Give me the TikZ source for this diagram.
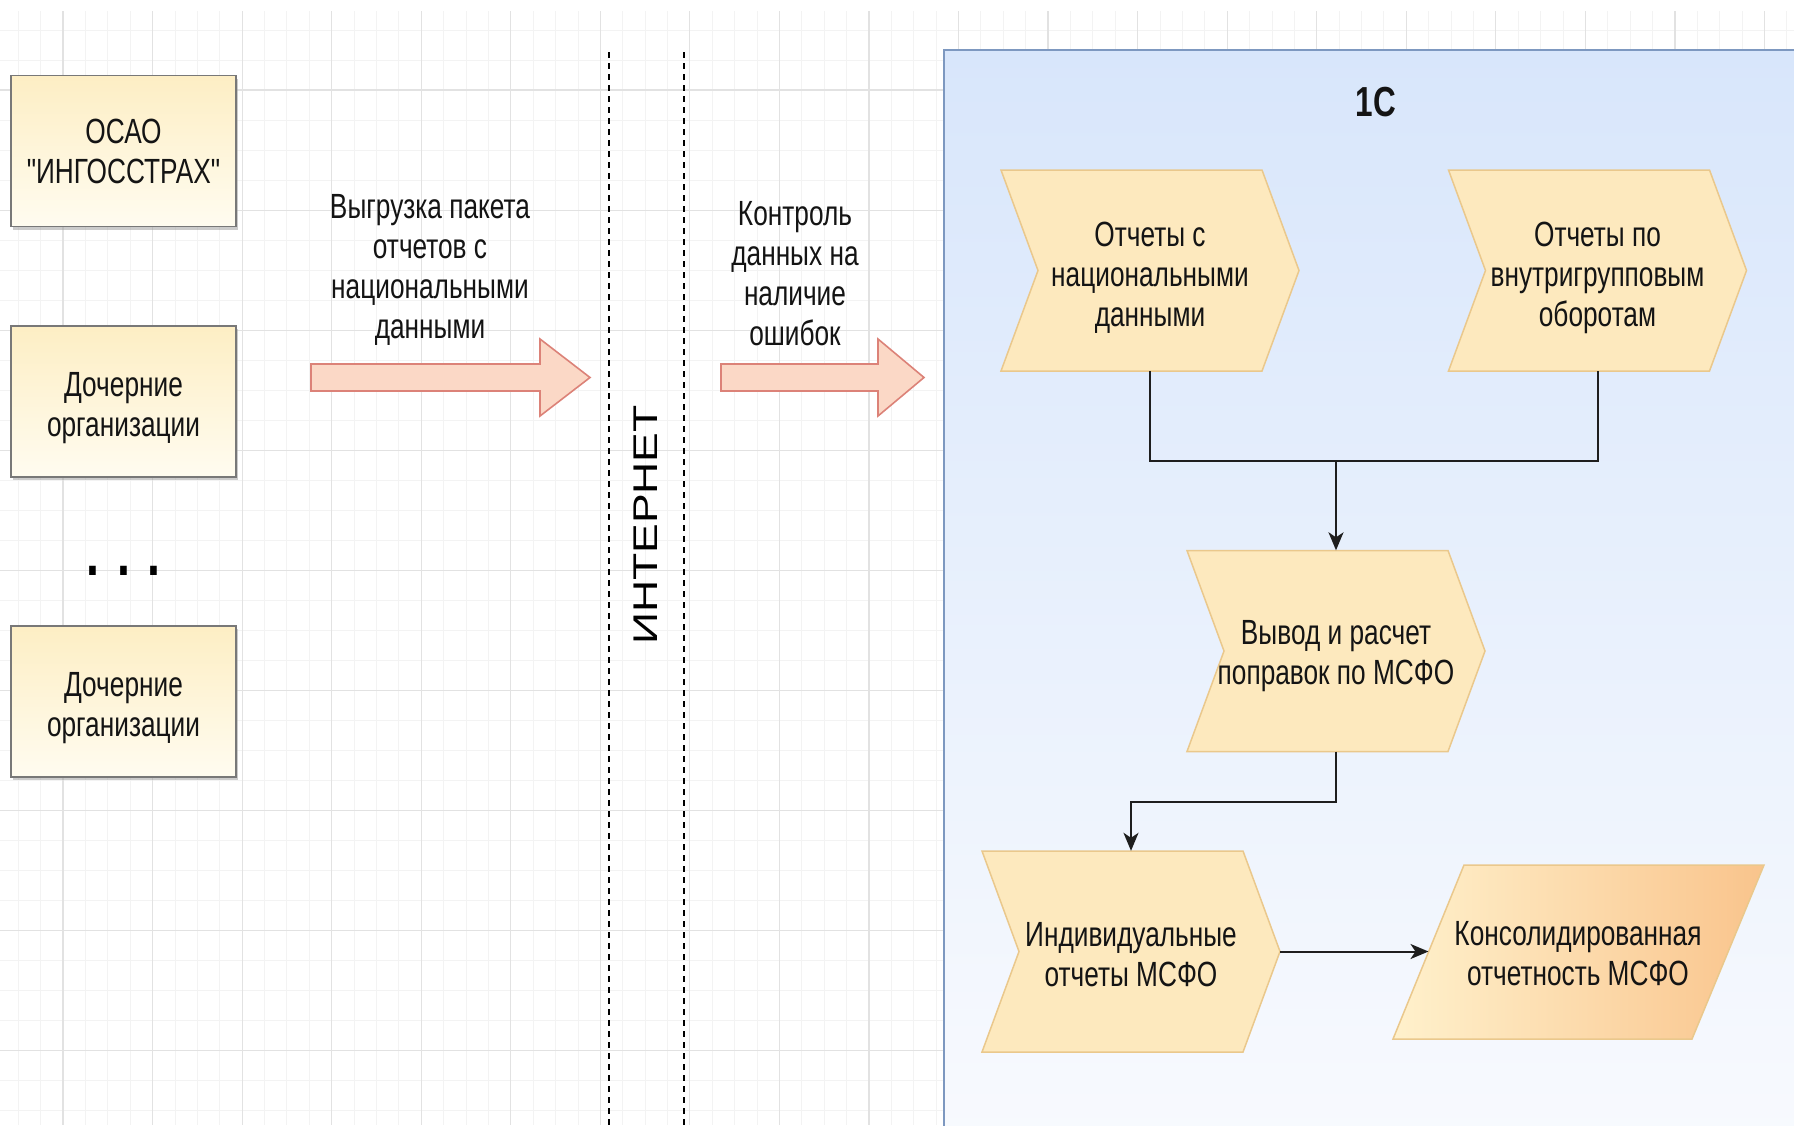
\documentclass[tikz,border=0pt]{standalone}
\usepackage{fontspec}
\setmainfont{Liberation Sans}[FakeStretch=0.75, Ligatures=TeXOff]
\newfontfamily\plainsans{Liberation Sans}
\usetikzlibrary{arrows.meta,shadows}
\definecolor{txt}{RGB}{20,20,20}
\definecolor{gridmaj}{RGB}{226,226,226}
\definecolor{gridmin}{RGB}{243,243,243}
\definecolor{boxtop}{RGB}{253,238,196}
\definecolor{boxbot}{RGB}{255,252,240}
\definecolor{boxline}{RGB}{120,120,120}
\definecolor{arrfill}{RGB}{251,216,198}
\definecolor{arrline}{RGB}{220,130,120}
\definecolor{conttop}{RGB}{216,230,251}
\definecolor{contbot}{RGB}{248,250,254}
\definecolor{contline}{RGB}{125,152,192}
\definecolor{chevfill}{RGB}{253,233,190}
\definecolor{chevline}{RGB}{234,200,140}
\definecolor{parleft}{RGB}{255,241,204}
\definecolor{parright}{RGB}{249,196,140}
\definecolor{connc}{RGB}{30,30,30}
\newcommand{\drawchev}[2]{%
  \path[chevshape] ({#1-149},{#2-100.5}) -- ({#1+112},{#2-100.5}) -- ({#1+149},#2)
    -- ({#1+112},{#2+100.5}) -- ({#1-149},{#2+100.5}) -- ({#1-112},#2) -- cycle;}
\begin{document}
\begin{tikzpicture}[x=1pt,y=-1pt,
  lbl/.style={text=txt, align=center, inner sep=0pt, text depth=0pt, font=\fontsize{35}{40}\selectfont},
  orgbox/.style={lbl, draw=boxline, line width=1.8pt, top color=boxtop, bottom color=boxbot,
    minimum width=225pt, minimum height=151pt,
    drop shadow={shadow xshift=2pt, shadow yshift=-3pt, fill=black!40, opacity=0.5}},
  chevshape/.style={draw=chevline, line width=1.5pt, fill=chevfill},
  chevtext/.style={lbl, minimum width=298pt, minimum height=201pt},
  parshape/.style={draw=chevline, line width=1.5pt, left color=parleft, right color=parright},
  blockarr/.style={draw=arrline, line width=1.6pt, fill=arrfill},
  sepline/.style={draw=black, line width=1.8pt, dash pattern=on 6pt off 5pt},
  gmin/.style={draw=gridmin, line width=0.8pt},
  gmaj/.style={draw=gridmaj, line width=1.2pt},
  conn/.style={draw=connc, line width=2pt},
  arr/.style={conn, -{Stealth[length=18pt,width=15pt,inset=5pt]}}]
\useasboundingbox (0,0) rectangle (1794,1125);
\clip (0,0) rectangle (1794,1125);
\fill[white] (0,0) rectangle (1794,1125);
% grid
\foreach \m in {-3,...,78} \draw[gmin] ({63+22.3875*\m},11) -- ({63+22.3875*\m},1125);
\foreach \m in {-2,...,34} \draw[gmin] (0,{90+30.025*\m}) -- (1794,{90+30.025*\m});
\foreach \k in {-1,...,19} \draw[gmaj] ({63+89.55*\k},11) -- ({63+89.55*\k},1125);
\foreach \k in {0,...,8} \draw[gmaj] (0,{90+120.1*\k}) -- (1794,{90+120.1*\k});

% left boxes
\node[orgbox] (osao) at (123.5,151) {ОСАО\\"ИНГОССТРАХ"};
\node[orgbox, text height=69.5pt] (sub1) at (123.5,401.5) {Дочерние\\организации};
\node[text=black, inner sep=0pt, font=\bfseries\fontsize{62}{62}\selectfont] (dots) at (123.5,571) {. . .};
\node[orgbox, text height=69.5pt] (sub2) at (123.5,701.5) {Дочерние\\организации};

% labels and block arrows
\node[lbl] (upl) at (430,266) {Выгрузка пакета\\отчетов с\\национальными\\данными};
\draw[blockarr] (311,364) -- (540,364) -- (540,339) -- (590,377.5) -- (540,416) -- (540,391) -- (311,391) -- cycle;
\node[lbl] (ctrl) at (795,273) {Контроль\\данных на\\наличие\\ошибок};
\draw[blockarr] (721,364) -- (878,364) -- (878,339) -- (924,377.5) -- (878,416) -- (878,391) -- (721,391) -- cycle;

% internet separators
\coordinate (sepAt) at (609,52);
\coordinate (sepAb) at (609,1125);
\coordinate (sepBt) at (684,52);
\coordinate (sepBb) at (684,1125);
\draw[sepline] (sepAt) -- (sepAb);
\draw[sepline] (sepBt) -- (sepBb);
\node[rotate=90, inner sep=0pt, text=black] (inet) at (646,525)
  {\plainsans\fontsize{44.5}{44.5}\selectfont\scalebox{1}[0.77]{ИНТЕРНЕТ}};

% 1C container
\path[draw=contline, line width=2pt, top color=conttop, bottom color=contbot] (944,50) rectangle (1815,1145);
\node[text=txt, inner sep=0pt, font=\bfseries\fontsize{42}{42}\selectfont] (title) at (1376,102) {1С};

% chevrons
\drawchev{1150}{270.5}
\node[chevtext, text height=112.5pt] (c1) at (1150,270.5) {Отчеты с\\национальными\\данными};
\drawchev{1597.5}{270.5}
\node[chevtext, text height=112.5pt] (c2) at (1597.5,270.5) {Отчеты по\\внутригрупповым\\оборотам};
\drawchev{1336}{651}
\node[chevtext, text height=67pt] (c3) at (1336,651) {Вывод и расчет\\поправок по МСФО};
\drawchev{1131}{951.5}
\node[chevtext, text height=69.5pt] (c4) at (1131,951.5) {Индивидуальные\\отчеты МСФО};

% parallelogram
\path[parshape] (1464,865) -- (1764,865) -- (1692,1039) -- (1393,1039) -- cycle;
\node[lbl] (cons) at (1578,953) {Консолидированная\\отчетность МСФО};
\coordinate (consL) at (1428.5,951.5);

% connectors
\coordinate (j) at (1336,461);
\draw[conn] (c1.south) |- (j) -| (c2.south);
\draw[arr] (j) -- (c3.north);
\draw[arr] (c3.south) -- ++(0,50) -| (c4.north);
\draw[arr] (c4.east) -- (consL);
\end{tikzpicture}
\end{document}
